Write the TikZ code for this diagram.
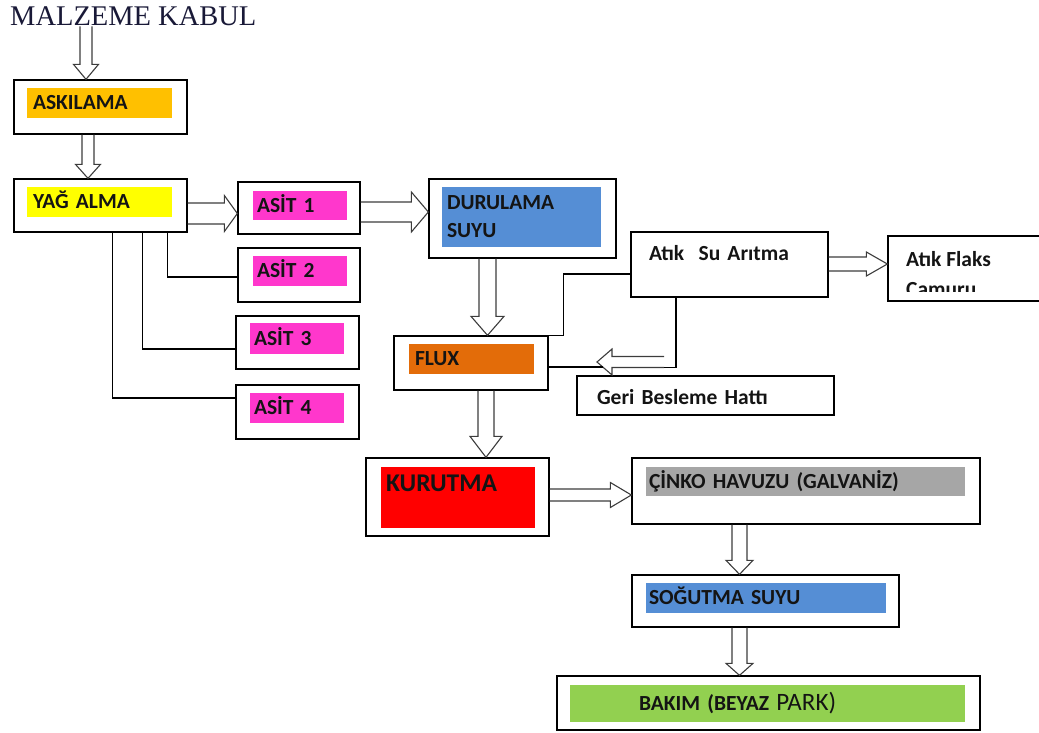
\documentclass[tikz,border=0pt]{standalone}
\usepackage{fontspec}
\setmainfont{Carlito}
\newfontfamily\headserif{Liberation Serif}
\usepackage{tikz}
\usetikzlibrary{calc,positioning}

\definecolor{askcol}{RGB}{255,192,0}
\definecolor{yagcol}{RGB}{255,255,0}
\definecolor{asitcol}{RGB}{255,55,204}
\definecolor{watercol}{RGB}{85,142,213}
\definecolor{fluxcol}{RGB}{227,108,9}
\definecolor{kurcol}{RGB}{255,0,0}
\definecolor{cinkocol}{RGB}{166,166,166}
\definecolor{bakcol}{RGB}{146,208,80}
\definecolor{arrline}{RGB}{60,60,60}
\definecolor{labeltext}{RGB}{20,20,20}
\definecolor{headtext}{RGB}{25,25,55}

\tikzset{
  box/.style={draw=black, line width=1.3pt, inner sep=0pt},
  band/.style={inner ysep=0pt, align=left, text=labeltext, text height=13.5pt, text depth=0pt,
    font=\bfseries\fontsize{21.5}{28}\selectfont},
  plain/.style={align=left, text=labeltext, font=\bfseries\fontsize{21.5}{30}\selectfont},
  link/.style={draw=black, line width=1.1pt},
  shaft/.store in=\arrw, head/.store in=\arrh, headlen/.store in=\arrl,
  shaft=7, head=13.5, headlen=15,
  hollow/.style={draw=arrline, line width=1.1pt, line join=miter,
    to path={($(\tikztotarget)!\arrl pt!(\tikztostart)$) coordinate (hd)
      ($(\tikztostart)!\arrw pt!90:(\tikztotarget)$) -- ($(hd)!\arrw pt!90:(\tikztotarget)$)
      -- ($(hd)!\arrh pt!90:(\tikztotarget)$) -- (\tikztotarget)
      -- ($(hd)!\arrh pt!-90:(\tikztotarget)$) -- ($(hd)!\arrw pt!-90:(\tikztotarget)$)
      -- ($(\tikztostart)!\arrw pt!-90:(\tikztotarget)$)}},
}

\begin{document}
\begin{tikzpicture}[x=1pt,y=-1pt]
  \useasboundingbox (0,0) rectangle (1039,733);
  % Title
  \node[anchor=base west, inner sep=0pt, text=headtext, font=\headserif\fontsize{28.5}{30}\selectfont] (malz) at (10,26) {MALZEME KABUL};
  % Outer boxes
  \node[box, minimum width=173, minimum height=54] (askbox) at (100.5,107) {};
  \node[box, minimum width=173, minimum height=53] (yagbox) at (100.5,205.5) {};
  \node[box, minimum width=122, minimum height=52] (asit1box) at (299,208) {};
  \node[box, minimum width=122, minimum height=54] (asit2box) at (299,275) {};
  \node[box, minimum width=123, minimum height=53] (asit3box) at (297.5,342.5) {};
  \node[box, minimum width=123, minimum height=54] (asit4box) at (297.5,412) {};
  \node[box, minimum width=187, minimum height=79] (durbox) at (522.5,218.5) {};
  \node[box, minimum width=154, minimum height=54] (fluxbox) at (471,363) {};
  \node[box, plain, inner xsep=18pt, text width=161pt, text height=28.5pt, text depth=36.5pt] (atikbox) at (729.5,264.5) {Atık~~Su Arıtma};
  \node[box, minimum width=160, minimum height=65] (flaksbox) at (968,268.5) {};
  \node[box, plain, inner xsep=20pt, text width=217pt, text height=28.65pt, text depth=10.35pt] (geribox) at (705.5,395.5) {Geri Besleme Hattı};
  \node[box, minimum width=183, minimum height=78] (kurbox) at (457.5,497) {};
  \node[box, minimum width=348, minimum height=66] (cinkobox) at (806,491) {};
  \node[box, minimum width=267, minimum height=52] (sogbox) at (765.5,601) {};
  \node[box, minimum width=423, minimum height=54] (bakbox) at (768.5,703) {};
  % Coloured bands
  \node[band, fill=askcol, inner xsep=6pt, text width=133pt, minimum height=30] (askband) at (99.5,103) {ASKILAMA};
  \node[band, fill=yagcol, inner xsep=6pt, text width=133pt, minimum height=30] (yagband) at (99.5,202) {YAĞ ALMA};
  \node[band, fill=asitcol, inner xsep=4pt, text width=86pt, minimum height=29] (asit1band) at (300,205.5) {ASİT 1};
  \node[band, fill=asitcol, inner xsep=4pt, text width=86pt, minimum height=30] (asit2band) at (300,271) {ASİT 2};
  \node[band, fill=asitcol, inner xsep=4pt, text width=86pt, minimum height=31] (asit3band) at (297,338.5) {ASİT 3};
  \node[band, fill=asitcol, inner xsep=4pt, text width=86pt, minimum height=30] (asit4band) at (297,408) {ASİT 4};
  \node[band, fill=watercol, inner xsep=5pt, text width=149pt, minimum height=60, text depth=28pt] (durband) at (521.5,217) {DURULAMA\\SUYU};
  \node[band, fill=fluxcol, inner xsep=6pt, text width=113pt, minimum height=30] (fluxband) at (471.5,359) {FLUX};
  \node[band, fill=kurcol, inner xsep=5pt, text width=144pt, font=\bfseries\fontsize{25.5}{30}\selectfont, text height=24.2pt, text depth=36.8pt] (kurband) at (458,497.5) {KURUTMA};
  \node[band, fill=cinkocol, inner xsep=3pt, text width=313pt, minimum height=29] (cinkoband) at (805.5,481.5) {ÇİNKO HAVUZU (GALVANİZ)};
  \node[band, fill=watercol, inner xsep=3pt, text width=234pt, minimum height=30] (sogband) at (766,598) {SOĞUTMA SUYU};
  \node[band, fill=bakcol, inner xsep=69pt, text width=257pt, minimum height=37] (bakband) at (767.5,703.5) {BAKIM (BEYAZ {\mdseries\fontsize{25}{28}\selectfont PARK)}};
  % Cut-off text of the right box
  \begin{scope}
    \clip (888,236) rectangle (1039,291.5);
    \node[plain, anchor=north west, inner sep=0pt] (flakstext) at (906,251.5) {Atık Flaks\\Çamuru};
  \end{scope}
  % Feedback arrow ends
  \coordinate (fbtail) at (664,362);
  \coordinate (fbtip) at (597,362);
  % Hollow arrows
  \draw[hollow, shaft=6, head=12.5, headlen=15] (malz.south -| 86,0) to (askbox.north -| 86,0);
  \draw[hollow, shaft=6, head=12.5, headlen=14] (askbox.south -| 88,0) to (yagbox.north -| 88,0);
  \draw[hollow, shaft=10.5, head=18, headlen=13] (yagbox.east |- 0,213.5) to (asit1box.west |- 0,213.5);
  \draw[hollow, shaft=10, head=20, headlen=17] (asit1box.east |- 0,212) to (durbox.west |- 0,212);
  \draw[hollow, shaft=8.5, head=16.5, headlen=19] (durbox.south -| 487.5,0) to (fluxbox.north -| 487.5,0);
  \draw[hollow, shaft=8, head=16, headlen=21] (fluxbox.south -| 486,0) to (kurbox.north -| 486,0);
  \draw[hollow, shaft=7, head=12, headlen=21] (atikbox.east |- 0,264) to (flaksbox.west |- 0,264);
  \draw[hollow, shaft=5.5, head=13, headlen=15] (fbtail) to (fbtip);
  \draw[hollow, shaft=6, head=12.5, headlen=21] (kurbox.east |- 0,495) to (cinkobox.west |- 0,495);
  \draw[hollow, shaft=7.5, head=13.5, headlen=14] (cinkobox.south -| 739.5,0) to (sogbox.north -| 739.5,0);
  \draw[hollow, shaft=7.5, head=13.5, headlen=12] (sogbox.south -| 739.5,0) to (bakbox.north -| 739.5,0);
  % Plain lines
  \draw[link] ($(yagbox.south west)+(154,0)$) |- ($(asit2box.west)+(0,2)$);
  \draw[link] ($(yagbox.south west)+(129,0)$) |- ($(asit3box.west)+(0,6.5)$);
  \draw[link] ($(yagbox.south west)+(99,0)$) |- ($(asit4box.west)+(0,-14)$);
  \draw[link] (fluxbox.north east) -- ++(15,0) |- ($(atikbox.west)+(0,9.5)$);
  \draw[link] ($(atikbox.south)+(-53.5,0)$) |- ($(fbtail)+(0,5.5)$);
  \draw[link] ($(fbtip)+(6,5)$) -- (fluxbox.east |- 0,367);
\end{tikzpicture}
\end{document}
